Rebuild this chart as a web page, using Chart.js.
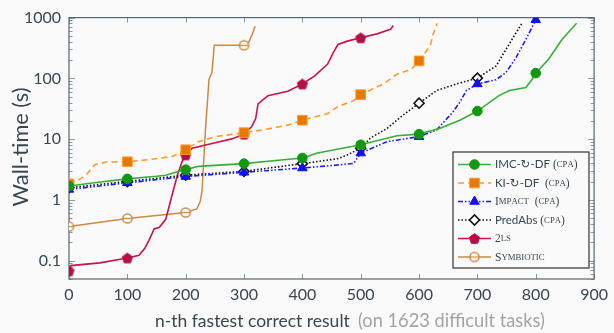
<!DOCTYPE html>
<html>
<head>
<meta charset="utf-8">
<script src="https://cdn.jsdelivr.net/npm/chart.js@4/dist/chart.umd.min.js"></script>
<style>
html,body{margin:0;padding:0;background:#fafafa;}
#wrap{width:614px;height:333px;}
</style>
</head>
<body>
<div id="wrap"><canvas id="c" width="614" height="333"></canvas></div>
<script>
// ---------------- data ----------------
const xTickValues = [0,100,200,300,400,500,600,700,800,900];
const yTickValues = [0.1,1,10,100,1000];
const yTickLabels = ['0.1','1','10','100','1000'];

const seriesNames = ['IMC-↻-DF (CPA)','KI-↻-DF (CPA)','Impact (CPA)','PredAbs (CPA)','2LS','Symbiotic'];

const imcX = [0,50,100,150,166,188,200,222,300,350,400,426,500,562,600,635,670,700,737,755,783,794,800,822,845,870];
const imcY = [1.69,1.95,2.22,2.45,2.55,2.96,3.15,3.57,3.95,4.4,4.9,5.9,8.1,11.4,12.1,15,20.5,29,52,63,71,97,122,206,435,810];

const kiX = [0,13,30,44,64,100,137,177,200,222,251,300,330,375,400,443,460,488,500,539,562,587,600,619,624,631];
const kiY = [1.84,2.04,2.6,3.8,4.2,4.25,4.6,5.2,6.7,9.1,11,12.8,14.1,17,20.5,26.2,34,43,54,81,117,142,194,340,525,810];

const impactX = [0,100,200,300,400,460,488,500,545,600,630,658,670,681,700,732,749,766,783,800];
const impactY = [1.49,1.91,2.43,2.85,3.35,3.75,4.0,5.9,9.1,11,14.1,28,40.7,63,81,95,125,218,435,920];

const predX = [0,100,200,300,400,449,460,477,500,517,545,573,600,630,664,700,732,749,777];
const predY = [1.59,2.01,2.55,2.96,3.95,4.6,4.76,5.5,7.1,10.5,15,25,39,63,81,101,160,300,830];

const twoLsX = [0,3,53,100,120,130,137,146,155,166,177,186,194,200,211,245,279,300,313,320,324,341,375,400,421,443,453,461,477,500,528,551,556];
const twoLsY = [0.068,0.083,0.092,0.111,0.123,0.16,0.216,0.334,0.354,0.485,1.24,2.6,4.3,5.5,7.1,8.5,10.1,12.1,16,21.8,38,52,61.5,81,110,170,265,361,410,465,540,640,740];

const symX = [0,100,200,219,225,228,234,240,245,249,300,308,314,319];
const symY = [0.364,0.497,0.62,0.71,0.95,1.4,15,97,125,350,350,395,525,720];

// ---------------- helpers ----------------
function pts(xs, ys){ return xs.map((x,i)=>({x:x, y:ys[i]})); }

function makePentagon(){
  const c = document.createElement('canvas'); c.width = 13; c.height = 13;
  const g = c.getContext('2d');
  g.beginPath();
  for(let i=0;i<5;i++){
    const a = -Math.PI/2 + i*2*Math.PI/5;
    const px = 6.5 + 5.4*Math.cos(a), py = 7 + 5.4*Math.sin(a);
    if(i===0) g.moveTo(px,py); else g.lineTo(px,py);
  }
  g.closePath();
  g.fillStyle = '#b01046'; g.fill();
  g.strokeStyle = '#c8144a'; g.lineWidth = 1; g.stroke();
  return c;
}
function makeSymMarker(){
  const c = document.createElement('canvas'); c.width = 13; c.height = 13;
  const g = c.getContext('2d');
  g.beginPath(); g.arc(6.5,6.5,4.6,0,Math.PI*2);
  g.fillStyle = '#ffffff'; g.fill();
  g.strokeStyle = '#cd8a45'; g.lineWidth = 1.5; g.stroke();
  g.beginPath(); g.moveTo(2,6.5); g.lineTo(11,6.5); g.lineWidth = 1.3; g.stroke();
  return c;
}
const pentagon = makePentagon();
const symMarker = makeSymMarker();

function markerRadius(r){
  return function(ctx){ return (ctx.raw && ctx.raw.x % 100 === 0) ? r : 0; };
}

const SANS = 'Lato, "DejaVu Sans", sans-serif';
const SERIF = '"Liberation Serif", "DejaVu Serif", serif';
const TEXT = '#37474f';

const datasets = [
  {label: seriesNames[0], data: pts(imcX, imcY), borderColor:'#35b035', borderWidth:1.6,
   pointStyle:'circle', pointRadius: markerRadius(4.8), pointBackgroundColor:'#0e990e', pointBorderColor:'#0e990e', pointBorderWidth:1},
  {label: seriesNames[1], data: pts(kiX, kiY), borderColor:'#ff9a2e', borderWidth:1.6, borderDash:[6,4],
   pointStyle:'rect', pointRadius: markerRadius(6.8), pointBackgroundColor:'#e87800', pointBorderColor:'#ff9a2e', pointBorderWidth:1},
  {label: seriesNames[2], data: pts(impactX, impactY), borderColor:'#1a1aff', borderWidth:1.6, borderDash:[5,2,1.5,2,1.5,2],
   pointStyle:'triangle', pointRadius: markerRadius(5.5), pointBackgroundColor:'#1010f0', pointBorderColor:'#1010f0', pointBorderWidth:1},
  {label: seriesNames[3], data: pts(predX, predY), borderColor:'#111111', borderWidth:1.6, borderDash:[1.5,2],
   pointStyle:'rectRot', pointRadius: markerRadius(5), pointBackgroundColor:'#ffffff', pointBorderColor:'#111111', pointBorderWidth:1.6},
  {label: seriesNames[4], data: pts(twoLsX, twoLsY), borderColor:'#c8144a', borderWidth:1.6,
   pointStyle: pentagon, pointRadius: markerRadius(5)},
  {label: seriesNames[5], data: pts(symX, symY), borderColor:'#cd8a45', borderWidth:1.5,
   pointStyle: symMarker, pointRadius: markerRadius(5)}
];

// ---------------- drawing helpers ----------------
function drawSmallCaps(ctx, s, x, y, size, fam){
  let cx = x;
  for(const ch of s){
    const lower = ch !== ch.toUpperCase();
    ctx.font = (lower ? size*0.76 : size) + 'px ' + fam;
    const t = lower ? ch.toUpperCase() : ch;
    ctx.fillText(t, cx, y);
    cx += ctx.measureText(t).width;
  }
  return cx - x;
}

const frameTicks = {
  id:'frameTicks',
  beforeDraw(chart){
    const ctx = chart.ctx;
    ctx.save(); ctx.fillStyle = '#fafafa'; ctx.fillRect(0,0,chart.width,chart.height); ctx.restore();
  },
  beforeDatasetsDraw(chart){
    const {ctx, chartArea:a, scales} = chart;
    const xs = scales.x, ys = scales.y;
    ctx.save();
    ctx.strokeStyle = '#8c9a9f'; ctx.lineWidth = 1;
    ctx.beginPath();
    xTickValues.forEach(v=>{
      const px = Math.round(xs.getPixelForValue(v))+0.5;
      ctx.moveTo(px, a.bottom); ctx.lineTo(px, a.bottom-5);
      ctx.moveTo(px, a.top); ctx.lineTo(px, a.top+5);
    });
    const decades = [0.01,0.1,1,10,100,1000];
    decades.forEach(d=>{
      for(let k=1;k<=9;k++){
        const v = k*d;
        if(v < ys.min - 1e-9 || v > ys.max + 1e-9) continue;
        const py = Math.round(ys.getPixelForValue(v))+0.5;
        const len = (k===1) ? 6 : 3.5;
        ctx.moveTo(a.left, py); ctx.lineTo(a.left+len, py);
        ctx.moveTo(a.right, py); ctx.lineTo(a.right-len, py);
      }
    });
    ctx.stroke();
    ctx.strokeStyle = '#56666c'; ctx.lineWidth = 1.2;
    ctx.strokeRect(a.left, a.top, a.right-a.left, a.bottom-a.top);
    ctx.restore();
  },
  afterDraw(chart){
    const ctx = chart.ctx;
    ctx.save();
    // y title
    ctx.fillStyle = TEXT;
    ctx.font = '20px ' + SANS;
    let yt = 'Wall-time (s)';
    let w = ctx.measureText(yt).width;
    const ySize = 20 * 119 / w;
    ctx.font = ySize + 'px ' + SANS;
    ctx.translate(21, 147);
    ctx.rotate(-Math.PI/2);
    ctx.textAlign = 'center'; ctx.textBaseline = 'middle';
    ctx.fillText(yt, 0, 0);
    ctx.restore();

    // x title
    ctx.save();
    ctx.textBaseline = 'alphabetic'; ctx.textAlign = 'left';
    const main = 'n-th fastest correct result';
    const sub = '(on 1623 difficult tasks)';
    ctx.font = '18px ' + SANS;
    const mSize = 18 * 195 / ctx.measureText(main).width;
    ctx.font = '16px ' + SANS;
    const sSize = 16 * 187 / ctx.measureText(sub).width;
    ctx.font = mSize + 'px ' + SANS; ctx.fillStyle = TEXT;
    ctx.fillText(main, 155, 327);
    ctx.font = sSize + 'px ' + SANS; ctx.fillStyle = '#a0a4a6';
    ctx.fillText(sub, 358, 327);
    ctx.restore();

    // legend
    ctx.save();
    const bx = 453, by = 152, bw = 136, bh = 116;
    ctx.fillStyle = '#fafafa';
    ctx.fillRect(bx, by, bw, bh);
    ctx.strokeStyle = '#333333'; ctx.lineWidth = 1.2;
    ctx.strokeRect(bx, by, bw, bh);
    const rows = [
      [{t:'IMC-↻-DF', f:'sans'}, {t:' (cpa)', f:'sc'}],
      [{t:'KI-↻-DF', f:'sans'}, {t:'  (cpa)', f:'sc'}],
      [{t:'Impact', f:'sc'}, {t:'  (cpa)', f:'sc'}],
      [{t:'PredAbs', f:'sans'}, {t:' (cpa)', f:'sc'}],
      [{t:'2ls', f:'sc'}],
      [{t:'Symbiotic', f:'sc'}]
    ];
    const meta = chart.data.datasets;
    rows.forEach((parts, i)=>{
      const ry = 164.5 + i*18.5;
      const ds = meta[i];
      ctx.save();
      ctx.strokeStyle = ds.borderColor; ctx.lineWidth = ds.borderWidth;
      ctx.setLineDash(ds.borderDash || []);
      ctx.beginPath(); ctx.moveTo(458, ry); ctx.lineTo(491, ry); ctx.stroke();
      ctx.setLineDash([]);
      ctx.fillStyle = ds.pointBackgroundColor || ds.borderColor;
      ctx.strokeStyle = ds.pointBorderColor || ds.borderColor;
      ctx.lineWidth = ds.pointBorderWidth || 1;
      const r = ds.pointRadius({raw:{x:0}});
      Chart.helpers.drawPoint(ctx, {pointStyle: ds.pointStyle, radius: r, rotation: 0, borderWidth: ctx.lineWidth}, 474.5, ry);
      ctx.restore();
      let tx = 495;
      ctx.fillStyle = TEXT; ctx.textBaseline = 'middle'; ctx.textAlign = 'left';
      parts.forEach(p=>{
        if(p.f === 'sans'){
          ctx.font = '11.5px ' + SANS;
          ctx.fillText(p.t, tx, ry);
          tx += ctx.measureText(p.t).width;
        } else {
          tx += drawSmallCaps(ctx, p.t, tx, ry+0.5, 11.5, SERIF);
        }
      });
    });
    ctx.restore();
  }
};

new Chart(document.getElementById('c'), {
  type: 'line',
  data: { datasets: datasets },
  options: {
    responsive: false,
    devicePixelRatio: 1,
    animation: false,
    events: [],
    layout: { padding: { left: 0, right: 15, top: 14, bottom: 0 } },
    plugins: { legend: { display: false }, tooltip: { enabled: false } },
    elements: { line: { tension: 0, fill: false } },
    scales: {
      x: {
        type: 'linear', min: 0, max: 900,
        afterBuildTicks: s => { s.ticks = xTickValues.map(v => ({value: v})); },
        afterFit: s => { s.height = 54; },
        grid: { display: false, drawTicks: false },
        border: { display: false },
        ticks: { font: { family: SANS, size: 16 }, color: TEXT, padding: 6, maxRotation: 0, autoSkip: false,
                 callback: v => String(v) }
      },
      y: {
        type: 'logarithmic', min: 0.05, max: 1000,
        afterBuildTicks: s => { s.ticks = yTickValues.map(v => ({value: v})); },
        afterFit: s => { s.width = 69; },
        grid: { display: false, drawTicks: false },
        border: { display: false },
        ticks: { font: { family: SANS, size: 16 }, color: TEXT, padding: 8, autoSkip: false,
                 callback: (v) => { const i = yTickValues.indexOf(v); return i >= 0 ? yTickLabels[i] : ''; } }
      }
    }
  },
  plugins: [frameTicks]
});
</script>
</body>
</html>
